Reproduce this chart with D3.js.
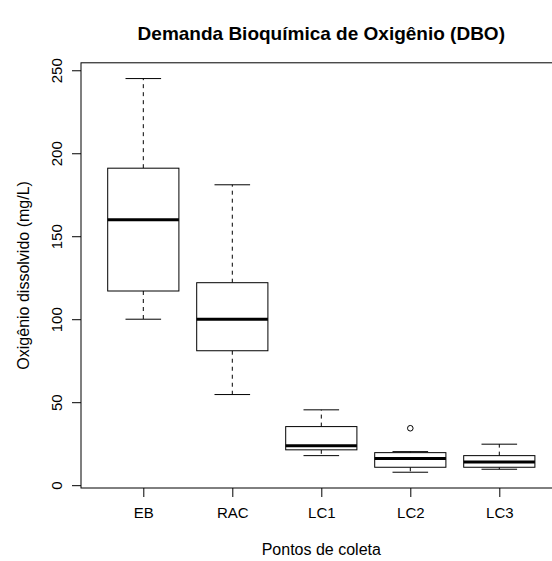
<!DOCTYPE html>
<html>
<head>
<meta charset="utf-8">
<script src="https://cdn.jsdelivr.net/npm/d3@7"></script>
<style>
body { margin: 0; background: white; }
text { font-family: "Liberation Sans", Arial, sans-serif; fill: black; }
</style>
</head>
<body>
<svg id="graph1"></svg>
<script>
var categories = ["EB", "RAC", "LC1", "LC2", "LC3"]
var whiskerLow = [100, 54.6, 17.8, 7.8, 9.6]
var boxLow = [117, 81, 21.3, 10.8, 10.8]
var medians = [160, 100, 23.7, 16, 14]
var boxHigh = [191, 122, 35.3, 19.6, 17.8]
var whiskerHigh = [245, 181, 45.4, 20.2, 24.7]
var outliers = [{cat: "LC2", value: 34.3}]
var yTicks = [0, 50, 100, 150, 200, 250]

var svgw = 552
var svgh = 561

var makeTranslateString = function(x, y)
{
    return "translate(" + x + "," + y + ")";
}

var svg = d3.select("#graph1")
    .attr("width", svgw)
    .attr("height", svgh)

var xscale = d3.scalePoint()
    .domain(categories)
    .range([143.3, 499.3])

var step = xscale.step()
var boxw = step * 0.8
var capw = step * 0.4

var yscale = d3.scaleLinear()
    .domain([-1.7, 254.5])
    .range([488, 62.8])

var plotLeft = xscale("EB") - 0.7 * step
var plotRight = xscale("LC3") + 0.7 * step
var plotTop = yscale(254.5)
var plotBottom = yscale(-1.7)

// frame (right side falls off the picture, like the original)
svg.append("rect")
    .attr("x", plotLeft)
    .attr("y", plotTop)
    .attr("width", plotRight - plotLeft)
    .attr("height", plotBottom - plotTop)
    .attr("fill", "none")
    .attr("stroke", "black")
    .attr("stroke-width", 1)

var boxes = svg.append("g")
    .selectAll("g")
    .data(categories)
    .enter()
    .append("g")

// dashed whiskers
boxes.append("line")
    .attr("x1", function(d){return xscale(d)})
    .attr("x2", function(d){return xscale(d)})
    .attr("y1", function(d,i){return yscale(boxHigh[i])})
    .attr("y2", function(d,i){return yscale(whiskerHigh[i])})
    .attr("stroke", "black")
    .attr("stroke-dasharray", "4,4")
boxes.append("line")
    .attr("x1", function(d){return xscale(d)})
    .attr("x2", function(d){return xscale(d)})
    .attr("y1", function(d,i){return yscale(boxLow[i])})
    .attr("y2", function(d,i){return yscale(whiskerLow[i])})
    .attr("stroke", "black")
    .attr("stroke-dasharray", "4,4")

// staples
boxes.append("line")
    .attr("x1", function(d){return xscale(d) - capw/2})
    .attr("x2", function(d){return xscale(d) + capw/2})
    .attr("y1", function(d,i){return yscale(whiskerHigh[i])})
    .attr("y2", function(d,i){return yscale(whiskerHigh[i])})
    .attr("stroke", "black")
boxes.append("line")
    .attr("x1", function(d){return xscale(d) - capw/2})
    .attr("x2", function(d){return xscale(d) + capw/2})
    .attr("y1", function(d,i){return yscale(whiskerLow[i])})
    .attr("y2", function(d,i){return yscale(whiskerLow[i])})
    .attr("stroke", "black")

// boxes
boxes.append("rect")
    .attr("x", function(d){return xscale(d) - boxw/2})
    .attr("y", function(d,i){return yscale(boxHigh[i])})
    .attr("width", boxw)
    .attr("height", function(d,i){return yscale(boxLow[i]) - yscale(boxHigh[i])})
    .attr("fill", "white")
    .attr("stroke", "black")

// medians
boxes.append("line")
    .attr("x1", function(d){return xscale(d) - boxw/2})
    .attr("x2", function(d){return xscale(d) + boxw/2})
    .attr("y1", function(d,i){return yscale(medians[i])})
    .attr("y2", function(d,i){return yscale(medians[i])})
    .attr("stroke", "black")
    .attr("stroke-width", 3)

svg.append("g")
    .selectAll("circle")
    .data(outliers)
    .enter()
    .append("circle")
    .attr("cx", function(d){return xscale(d.cat)})
    .attr("cy", function(d){return yscale(d.value)})
    .attr("r", 2.8)
    .attr("fill", "none")
    .attr("stroke", "black")

// axes
var yAxis = d3.axisLeft(yscale)
    .tickValues(yTicks)
    .tickSize(9)
var ya = svg.append("g")
    .attr("transform", makeTranslateString(plotLeft, 0))
    .call(yAxis)
ya.select(".domain").remove()
ya.selectAll("line").attr("stroke", "black")
ya.selectAll("text")
    .style("font-size", "15px")
    .attr("x", null)
    .attr("dy", null)
    .attr("text-anchor", "middle")
    .attr("transform", makeTranslateString(-19, 0) + " rotate(-90)")

var xAxis = d3.axisBottom(xscale)
    .tickSize(9)
    .tickPadding(10)
var xa = svg.append("g")
    .attr("transform", makeTranslateString(0, plotBottom))
    .call(xAxis)
xa.select(".domain").remove()
xa.selectAll("line").attr("stroke", "black")
xa.selectAll("text")
    .style("font-size", "15px")
    .attr("dy", "0.71em")

// labels
svg.append("text")
    .text("Demanda Bioquímica de Oxigênio (DBO)")
    .attr("text-anchor", "middle")
    .attr("x", (plotLeft + plotRight) / 2)
    .attr("y", 40)
    .style("font-weight", "bold")
    .style("font-size", "19px")

svg.append("text")
    .text("Pontos de coleta")
    .attr("text-anchor", "middle")
    .attr("x", (plotLeft + plotRight) / 2)
    .attr("y", 555)
    .style("font-size", "16px")

svg.append("text")
    .attr("transform", makeTranslateString(29, (plotTop + plotBottom) / 2) + " rotate(-90)")
    .text("Oxigênio dissolvido (mg/L)")
    .attr("text-anchor", "middle")
    .style("font-size", "16px")
</script>
</body>
</html>
